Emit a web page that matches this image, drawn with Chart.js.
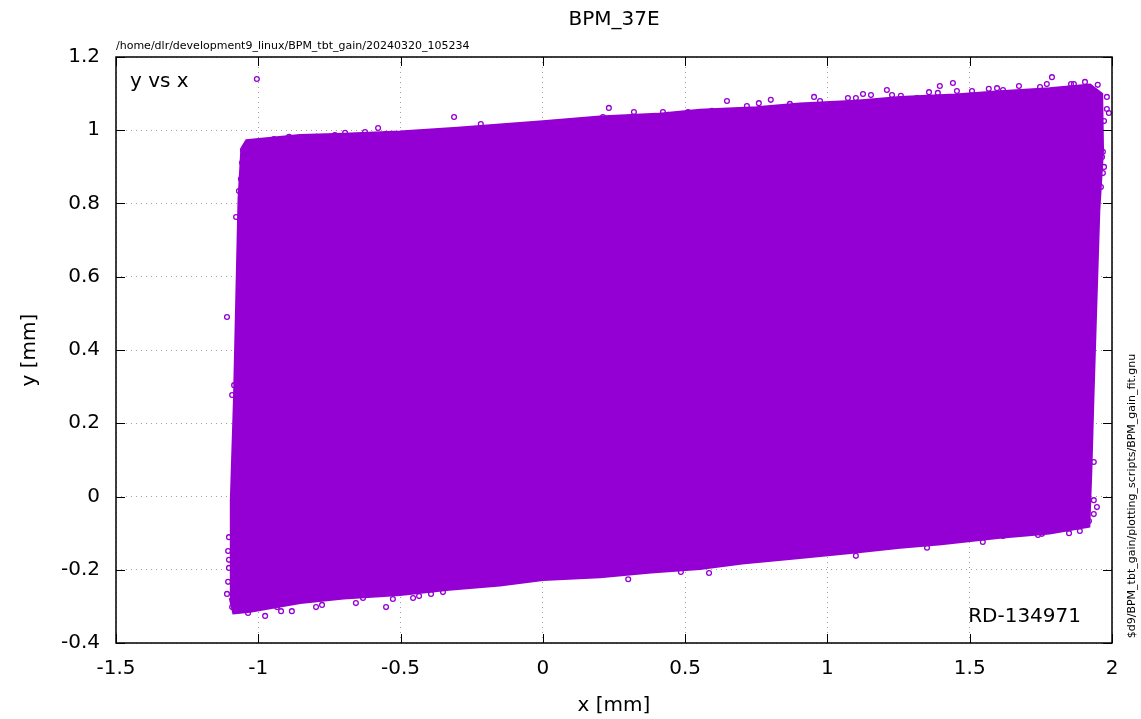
<!DOCTYPE html>
<html lang="en">
<head>
<meta charset="UTF-8" />
<title>BPM_37E - y vs x</title>
<style>
  body { margin: 0; padding: 0; background: #ffffff; }
  #wrap { width: 1141px; height: 719px; }
  canvas { display: block; }
</style>
</head>
<body>
  <div id="wrap"><canvas id="scatter" width="1141" height="719"></canvas></div>

  <script src="https://cdn.jsdelivr.net/npm/chart.js"></script>
  <script>
    // osi a popisky
    const xTicks = [-1.5, -1, -0.5, 0, 0.5, 1, 1.5, 2];
    const xTickLabels = ['-1.5', '-1', '-0.5', '0', '0.5', '1', '1.5', '2'];
    const yTicks = [-0.4, -0.2, 0, 0.2, 0.4, 0.6, 0.8, 1, 1.2];
    const yTickLabels = ['-0.4', '-0.2', '0', '0.2', '0.4', '0.6', '0.8', '1', '1.2'];

    // obrys husteho mracna bodov (odcitane z obrazku)
    const cloudX = [-1.056, -1.040, -0.853, -0.700, -0.502, -0.300, -0.151, 0.000, 0.201, 0.400, 0.552, 0.750, 0.903, 1.100, 1.255, 1.450, 1.606, 1.780, 1.922,
                    1.962, 1.965, 1.952, 1.942, 1.931, 1.924, 1.917, 1.780, 1.606, 1.400, 1.255, 1.100, 0.903, 0.700, 0.552,
                    0.380, 0.201, 0.000, -0.151, -0.330, -0.502, -0.700, -0.853, -1.029, -1.085, -1.095, -1.093, -1.082, -1.074, -1.066, -1.056];
    const cloudY = [0.950, 0.970, 0.984, 0.988, 0.994, 1.004, 1.013, 1.022, 1.035, 1.042, 1.053, 1.060, 1.070, 1.078, 1.088, 1.095, 1.104, 1.112, 1.122,
                    1.098, 0.946, 0.782, 0.537, 0.263, 0.072, -0.080, -0.098, -0.110, -0.128, -0.137, -0.150, -0.165, -0.180, -0.195,
                    -0.205, -0.218, -0.225, -0.240, -0.252, -0.266, -0.276, -0.288, -0.312, -0.316, -0.283, -0.010, 0.263, 0.537, 0.810, 0.950];

    // jednotlive body na okraji a mimo mracna
    const edgeX = [-1.005, -0.892, -0.945, -0.794, -0.731, -0.695, -0.625, -0.579, -0.551, -0.312, -0.218,
                   -1.054, -1.057, -1.061, -1.068, -1.057, -1.061, -1.061, -1.078, -1.057, -1.057, -1.064, -1.110, -1.085, -1.092,
                   -1.103, -1.106, -1.103, -1.103, -1.106, -1.110, -1.092, -1.036, -0.976, -0.920, -0.882, -0.934, -0.797,
                   -0.776, -0.657, -0.632, -0.551, -0.527, -0.456, -0.435, -0.393, -0.351,
                   0.485, 0.584, 0.300, 1.100, 1.350,
                   1.546, 1.740, 1.754, 1.849, 1.887, 1.919, 1.936, 1.947, 1.936, 1.936, 1.617, 1.490,
                   1.441, 1.455, 1.508, 1.567, 1.596, 1.617, 1.673, 1.747, 1.771, 1.789, 1.856, 1.866, 1.905, 1.950,
                   1.982, 1.982, 1.989, 1.972, 1.968, 1.965, 1.972, 1.968, 1.961,
                   0.211, 0.232, 0.320, 0.422, 0.440, 0.510, 0.594, 0.647, 0.717, 0.759, 0.801, 0.868, 0.953,
                   0.974, 1.072, 1.100, 1.125, 1.153, 1.209, 1.227, 1.258, 1.314, 1.357, 1.388, 1.395];
    const edgeY = [1.140, 0.982, 0.976, 0.982, 0.987, 0.993, 0.995, 1.006, 0.990, 1.036, 1.017,
                   0.946, 0.911, 0.867, 0.834, 0.840, 0.815, 0.790, 0.763, 0.763, 0.714, 0.684, 0.490, 0.304, 0.277,
                   -0.111, -0.149, -0.173, -0.195, -0.233, -0.266, -0.302, -0.318, -0.326, -0.313, -0.313, -0.302, -0.302,
                   -0.296, -0.291, -0.277, -0.302, -0.280, -0.277, -0.272, -0.266, -0.261,
                   -0.206, -0.209, -0.226, -0.162, -0.140,
                   -0.124, -0.105, -0.102, -0.100, -0.094, -0.067, -0.048, -0.029, -0.010, 0.094, -0.108, -0.113,
                   1.129, 1.107, 1.107, 1.113, 1.115, 1.110, 1.121, 1.118, 1.126, 1.145, 1.126, 1.126, 1.132, 1.124,
                   1.091, 1.058, 1.047, 1.025, 0.941, 0.927, 0.900, 0.883, 0.845,
                   1.036, 1.061, 1.050, 1.050, 1.042, 1.050, 1.053, 1.080, 1.066, 1.074, 1.083, 1.072, 1.091,
                   1.080, 1.088, 1.088, 1.099, 1.096, 1.110, 1.096, 1.094, 1.088, 1.104, 1.102, 1.121];

    const purple = '#9400d3';
    const FONT = "'DejaVu Sans', 'Liberation Sans', sans-serif";

    // ramik, ticky dovnutra a texty ako v gnuplote
    const gnuplotFrame = {
      id: 'gnuplotFrame',
      afterDraw(chart) {
        const c = chart.ctx;
        const a = chart.chartArea;
        const sx = chart.scales.x, sy = chart.scales.y;
        const tl = 9;
        c.save();
        c.strokeStyle = '#000';
        c.lineWidth = 1;
        c.beginPath();
        xTicks.forEach(v => {
          const px = Math.round(sx.getPixelForValue(v)) + 0.5;
          c.moveTo(px, a.bottom); c.lineTo(px, a.bottom - tl);
          c.moveTo(px, a.top); c.lineTo(px, a.top + tl);
        });
        yTicks.forEach(v => {
          const py = Math.round(sy.getPixelForValue(v)) + 0.5;
          c.moveTo(a.left, py); c.lineTo(a.left + tl, py);
          c.moveTo(a.right, py); c.lineTo(a.right - tl, py);
        });
        c.stroke();
        c.lineWidth = 1.5;
        c.strokeRect(a.left, a.top, a.right - a.left, a.bottom - a.top);

        c.fillStyle = '#000';
        c.font = '20px ' + FONT;
        c.textAlign = 'center';
        c.textBaseline = 'middle';
        c.fillText('BPM_37E', (a.left + a.right) / 2, 20);
        c.fillText('x [mm]', (a.left + a.right) / 2, 706);

        c.textAlign = 'left';
        c.textBaseline = 'alphabetic';
        c.fillText('y vs x', 130, 87);
        c.textAlign = 'right';
        c.fillText('RD-134971', 1081, 622);

        c.save();
        c.translate(30, (a.top + a.bottom) / 2);
        c.rotate(-Math.PI / 2);
        c.textAlign = 'center';
        c.textBaseline = 'middle';
        c.fillText('y [mm]', 0, 0);
        c.restore();

        c.font = '11px ' + FONT;
        c.textAlign = 'left';
        c.textBaseline = 'alphabetic';
        c.fillText('/home/dlr/development9_linux/BPM_tbt_gain/20240320_105234', 116, 49);

        c.save();
        c.translate(1135, 496);
        c.rotate(-Math.PI / 2);
        c.textAlign = 'center';
        c.fillText('$d9/BPM_tbt_gain/plotting_scripts/BPM_gain_fit.gnu', 0, 0);
        c.restore();
        c.restore();
      }
    };

    const ctx = document.getElementById('scatter').getContext('2d');
    new Chart(ctx, {
      type: 'scatter',
      data: {
        datasets: [
          {
            label: 'edge',
            data: edgeX.map((x, i) => ({ x: x, y: edgeY[i] })),
            pointStyle: 'circle',
            pointRadius: 2.4,
            borderWidth: 1.3,
            borderColor: purple,
            backgroundColor: 'rgba(0,0,0,0)',
            order: 1
          },
          {
            label: 'y vs x',
            data: cloudX.map((x, i) => ({ x: x, y: cloudY[i] })),
            showLine: true,
            fill: 'shape',
            tension: 0,
            pointRadius: 0,
            borderWidth: 4,
            borderColor: purple,
            backgroundColor: purple,
            order: 2
          }
        ]
      },
      options: {
        responsive: false,
        animation: false,
        devicePixelRatio: 1,
        layout: { padding: { top: 57, right: 29, bottom: 0, left: 0 } },
        plugins: { legend: { display: false }, tooltip: { enabled: false }, title: { display: false } },
        scales: {
          x: {
            type: 'linear',
            min: -1.5, max: 2,
            afterBuildTicks: s => { s.ticks = xTicks.map(v => ({ value: v })); },
            afterFit: s => { s.height = 76; },
            ticks: {
              callback: (v, i) => xTickLabels[i],
              font: { family: FONT, size: 20 },
              color: '#000',
              padding: 14,
              maxRotation: 0,
              autoSkip: false
            },
            grid: { color: '#a0a0a0', lineWidth: 1, drawTicks: false },
            border: { display: false, dash: [1, 4] }
          },
          y: {
            type: 'linear',
            min: -0.4, max: 1.2,
            afterBuildTicks: s => { s.ticks = yTicks.map(v => ({ value: v })); },
            afterFit: s => { s.width = 116; },
            ticks: {
              callback: (v, i) => yTickLabels[i],
              font: { family: FONT, size: 20 },
              color: '#000',
              padding: 16,
              autoSkip: false
            },
            grid: { color: '#a0a0a0', lineWidth: 1, drawTicks: false },
            border: { display: false, dash: [1, 4] }
          }
        }
      },
      plugins: [gnuplotFrame]
    });
  </script>
</body>
</html>
